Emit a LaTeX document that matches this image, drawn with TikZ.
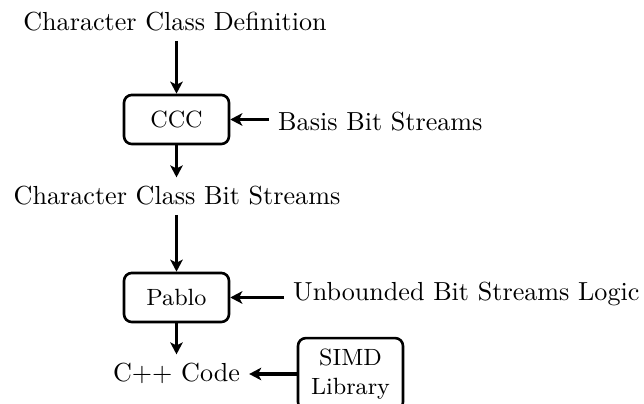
\documentclass[tikz,border=0pt]{standalone}
\usetikzlibrary{arrows.meta}
\begin{document}
\begin{tikzpicture}[x=0.383pt,y=-0.383pt,
  stage/.style={draw, line width=1pt, rounded corners=3pt, font=\small,
    minimum width=40.2pt, minimum height=18.8pt, inner sep=3pt},
  flow/.style={line width=1.25pt,
    -{Stealth[length=4.6pt,width=4.8pt,inset=1.2pt]}}]
\useasboundingbox (0,0) rectangle (644,404);

% main pipeline
\node[anchor=base] (ccd) at (175,31) {Character Class Definition};
\node[stage] (ccc) at (176.5,119.5) {CCC};
\node[anchor=base] (ccbs) at (177,205) {Character Class Bit Streams};
\node[stage] (pablo) at (176.5,297.5) {Pablo};
\node[anchor=base] (cpp) at (176.5,382) {C++ Code};

% side inputs
\node[anchor=base west] (bbs) at (269,131) {Basis Bit Streams};
\node[anchor=base west] (ubl) at (284,301) {Unbounded Bit Streams Logic};
\node[stage, align=center, minimum height=27.5pt] (simd) at (350.5,374) {SIMD\\Library};

% connectors
\draw[flow] (ccd.south -| ccc.north) -- (ccc.north);
\draw[flow] (bbs.west |- ccc.east) -- (ccc.east);
\draw[flow] (ccc.south) -- (ccc.south |- ccbs.north);
\draw[flow] (ccbs.south -| pablo.north) -- (pablo.north);
\draw[flow] (ubl.west |- pablo.east) -- (pablo.east);
\draw[flow] (pablo.south) -- (pablo.south |- cpp.north);
\draw[flow] (simd.west) -- (simd.west -| cpp.east);
\end{tikzpicture}
\end{document}
